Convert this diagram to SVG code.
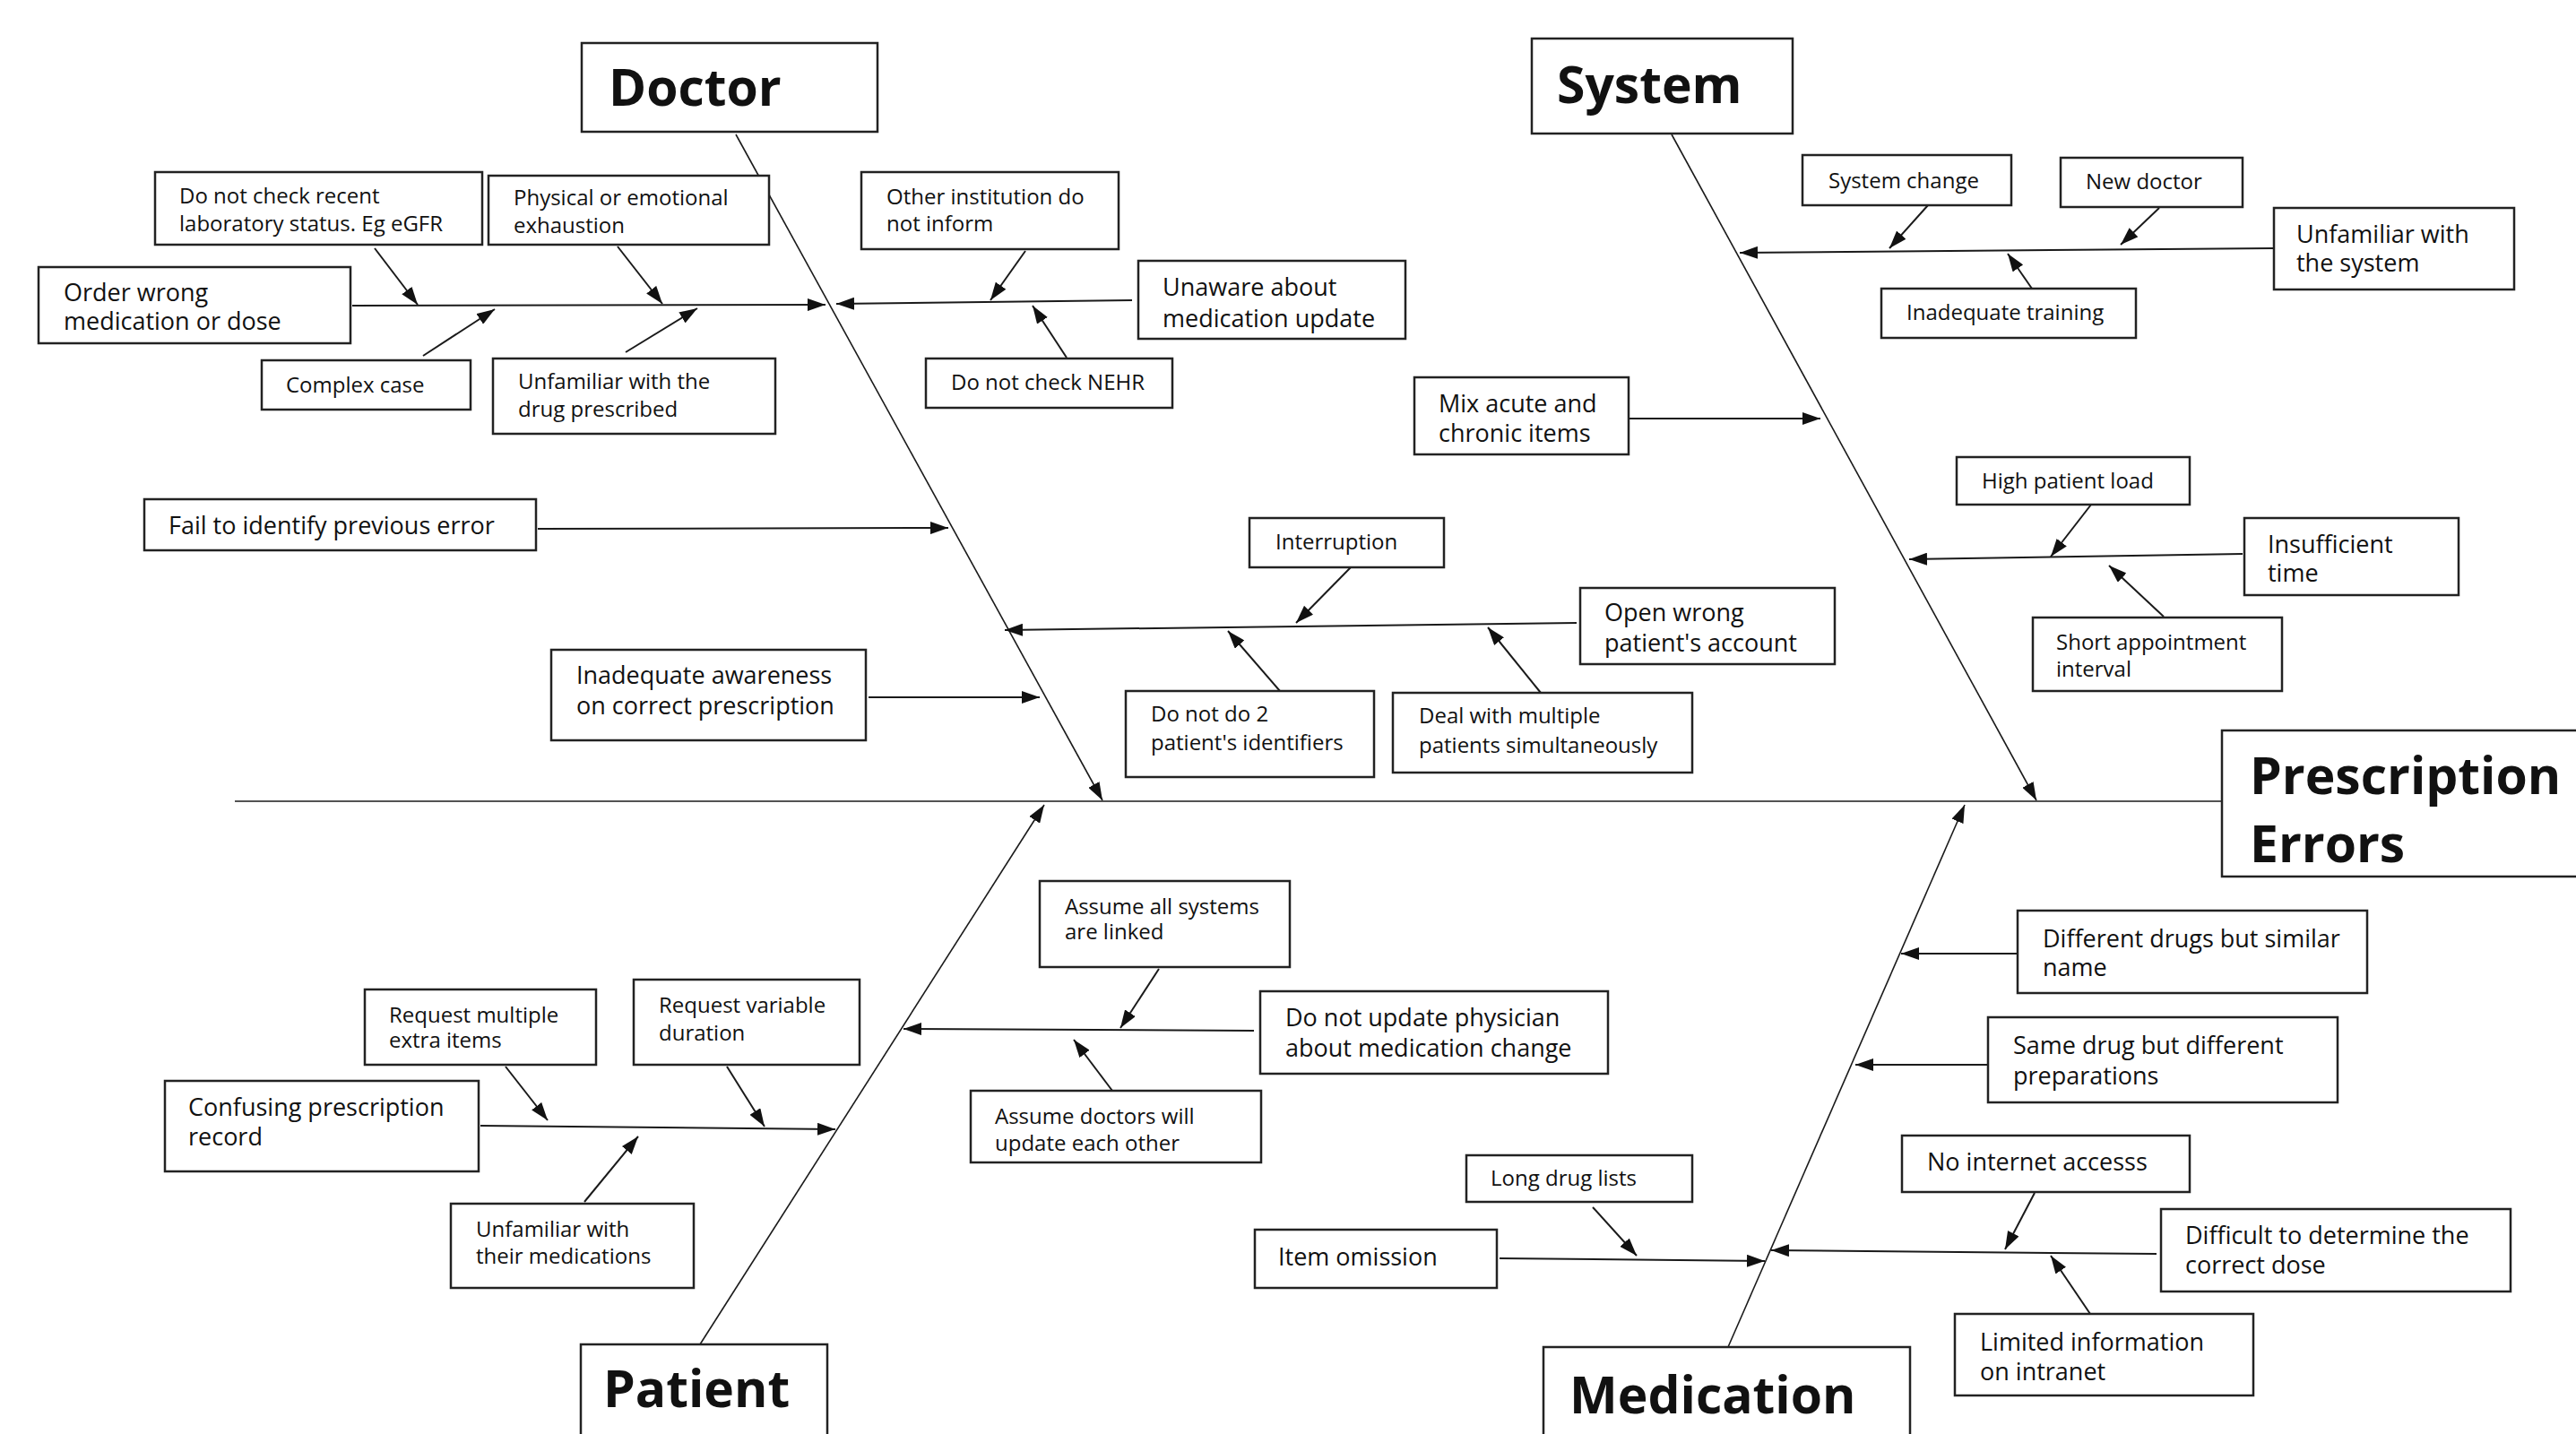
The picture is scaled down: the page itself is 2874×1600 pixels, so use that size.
<svg xmlns="http://www.w3.org/2000/svg" width="2874" height="1600" viewBox="0 0 2874 1600">
<style>
.bg{fill:#fff}
.box{fill:#fff;stroke:#222;stroke-width:2.5}
.t{font-family:"Open Sans","Liberation Sans",sans-serif;fill:#111}
.s24{font-size:24px}
.s27{font-size:27px}
.ti{font-size:57px;font-weight:bold}
.c{stroke:#1a1a1a;stroke-width:2;fill:none;marker-end:url(#ah)}
.sp{stroke:#1a1a1a;stroke-width:1.6;fill:none}
.spa{stroke:#1a1a1a;stroke-width:1.6;fill:none;marker-end:url(#ah)}
</style>
<defs>
<marker id="ah" markerUnits="userSpaceOnUse" markerWidth="20" markerHeight="14" refX="20" refY="7" orient="auto">
<path d="M0,0 L20,7 L0,14 z" fill="#111"/>
</marker>
</defs>
<rect class="bg" x="0" y="0" width="2874" height="1600"/>
<g id="connectors">
<line class="sp" x1="262" y1="894" x2="2479" y2="894"/>
<line class="spa" x1="821" y1="150" x2="1230" y2="893"/>
<line class="spa" x1="1865" y1="150" x2="2272" y2="893"/>
<line class="spa" x1="781" y1="1500" x2="1165" y2="898"/>
<line class="spa" x1="1928" y1="1503" x2="2192" y2="898"/>
<line class="c" x1="393" y1="341" x2="921" y2="340"/>
<line class="c" x1="1263" y1="335" x2="933" y2="339"/>
<line class="c" x1="418" y1="277" x2="466" y2="340"/>
<line class="c" x1="689" y1="275" x2="739" y2="339"/>
<line class="c" x1="472" y1="397" x2="552" y2="345"/>
<line class="c" x1="698" y1="393" x2="778" y2="344"/>
<line class="c" x1="1144" y1="280" x2="1105" y2="335"/>
<line class="c" x1="1190" y1="399" x2="1152" y2="341"/>
<line class="c" x1="600" y1="590" x2="1058" y2="589"/>
<line class="c" x1="969" y1="778" x2="1160" y2="778"/>
<line class="c" x1="1759" y1="695" x2="1121" y2="703"/>
<line class="c" x1="1507" y1="633" x2="1446" y2="695"/>
<line class="c" x1="1428" y1="771" x2="1370" y2="704"/>
<line class="c" x1="1719" y1="773" x2="1660" y2="700"/>
<line class="c" x1="2537" y1="277" x2="1941" y2="282"/>
<line class="c" x1="2151" y1="229" x2="2108" y2="277"/>
<line class="c" x1="2409" y1="232" x2="2366" y2="273"/>
<line class="c" x1="2267" y1="322" x2="2240" y2="283"/>
<line class="c" x1="1818" y1="467" x2="2031" y2="467"/>
<line class="c" x1="2502" y1="618" x2="2130" y2="624"/>
<line class="c" x1="2333" y1="563" x2="2288" y2="621"/>
<line class="c" x1="2414" y1="688" x2="2353" y2="631"/>
<line class="c" x1="536" y1="1256" x2="932" y2="1260"/>
<line class="c" x1="564" y1="1190" x2="611" y2="1250"/>
<line class="c" x1="811" y1="1190" x2="853" y2="1257"/>
<line class="c" x1="652" y1="1341" x2="712" y2="1268"/>
<line class="c" x1="1399" y1="1150" x2="1008" y2="1148"/>
<line class="c" x1="1293" y1="1081" x2="1250" y2="1147"/>
<line class="c" x1="1241" y1="1217" x2="1198" y2="1160"/>
<line class="c" x1="1673" y1="1404" x2="1969" y2="1407"/>
<line class="c" x1="1777" y1="1347" x2="1826" y2="1401"/>
<line class="c" x1="2251" y1="1064" x2="2121" y2="1064"/>
<line class="c" x1="2218" y1="1188" x2="2070" y2="1188"/>
<line class="c" x1="2406" y1="1399" x2="1976" y2="1395"/>
<line class="c" x1="2270" y1="1331" x2="2237" y2="1394"/>
<line class="c" x1="2332" y1="1466" x2="2288" y2="1401"/>
</g>
<g id="doctor"><rect class="box" x="649" y="48" width="330" height="99"/><text class="t ti" x="679" y="118">Doctor</text></g>
<g id="system"><rect class="box" x="1709" y="43" width="291" height="106"/><text class="t ti" x="1737" y="115">System</text></g>
<g id="patient"><rect class="box" x="648" y="1500" width="275" height="110"/><text class="t ti" x="673" y="1570">Patient</text></g>
<g id="medication"><rect class="box" x="1722" y="1503" width="409" height="110"/><text class="t ti" x="1751" y="1577">Medication</text></g>
<g id="prescription-errors"><rect class="box" x="2479" y="815" width="420" height="163"/><text class="t ti" x="2510" y="886">Prescription</text><text class="t ti" x="2510" y="962">Errors</text></g>
<g id="lab-status"><rect class="box" x="173" y="192" width="365" height="81"/><text class="t s24" x="200" y="227">Do not check recent</text><text class="t s24" x="200" y="258">laboratory status. Eg eGFR</text></g>
<g id="exhaustion"><rect class="box" x="545" y="196" width="313" height="77"/><text class="t s24" x="573" y="229">Physical or emotional</text><text class="t s24" x="573" y="260">exhaustion</text></g>
<g id="order-wrong"><rect class="box" x="43" y="298" width="348" height="85"/><text class="t s27" x="71" y="336">Order wrong</text><text class="t s27" x="71" y="368">medication or dose</text></g>
<g id="complex-case"><rect class="box" x="292" y="402" width="233" height="55"/><text class="t s24" x="319" y="438">Complex case</text></g>
<g id="unfamiliar-drug"><rect class="box" x="550" y="400" width="315" height="84"/><text class="t s24" x="578" y="434">Unfamiliar with the</text><text class="t s24" x="578" y="465">drug prescribed</text></g>
<g id="other-institution"><rect class="box" x="961" y="192" width="287" height="86"/><text class="t s24" x="989" y="228">Other institution do</text><text class="t s24" x="989" y="258">not inform</text></g>
<g id="unaware"><rect class="box" x="1270" y="291" width="298" height="87"/><text class="t s27" x="1297" y="330">Unaware about</text><text class="t s27" x="1297" y="365">medication update</text></g>
<g id="nehr"><rect class="box" x="1033" y="400" width="275" height="55"/><text class="t s24" x="1061" y="435">Do not check NEHR</text></g>
<g id="mix-acute"><rect class="box" x="1578" y="421" width="239" height="86"/><text class="t s27" x="1605" y="460">Mix acute and</text><text class="t s27" x="1605" y="493">chronic items</text></g>
<g id="fail-identify"><rect class="box" x="161" y="557" width="437" height="57"/><text class="t s27" x="188" y="596">Fail to identify previous error</text></g>
<g id="inadequate-awareness"><rect class="box" x="615" y="725" width="351" height="101"/><text class="t s27" x="643" y="763">Inadequate awareness</text><text class="t s27" x="643" y="797">on correct prescription</text></g>
<g id="interruption"><rect class="box" x="1394" y="578" width="217" height="55"/><text class="t s24" x="1423" y="613">Interruption</text></g>
<g id="open-wrong"><rect class="box" x="1763" y="656" width="284" height="85"/><text class="t s27" x="1790" y="693">Open wrong</text><text class="t s27" x="1790" y="727">patient's account</text></g>
<g id="identifiers"><rect class="box" x="1256" y="771" width="277" height="96"/><text class="t s24" x="1284" y="805">Do not do 2</text><text class="t s24" x="1284" y="837">patient's identifiers</text></g>
<g id="multiple-patients"><rect class="box" x="1554" y="773" width="334" height="89"/><text class="t s24" x="1583" y="807">Deal with multiple</text><text class="t s24" x="1583" y="840">patients simultaneously</text></g>
<g id="system-change"><rect class="box" x="2011" y="173" width="233" height="56"/><text class="t s24" x="2040" y="210">System change</text></g>
<g id="new-doctor"><rect class="box" x="2299" y="176" width="203" height="55"/><text class="t s24" x="2327" y="211">New doctor</text></g>
<g id="unfamiliar-system"><rect class="box" x="2537" y="232" width="268" height="91"/><text class="t s27" x="2562" y="271">Unfamiliar with</text><text class="t s27" x="2562" y="303">the system</text></g>
<g id="inadequate-training"><rect class="box" x="2099" y="322" width="284" height="55"/><text class="t s24" x="2127" y="357">Inadequate training</text></g>
<g id="high-load"><rect class="box" x="2183" y="510" width="260" height="53"/><text class="t s24" x="2211" y="545">High patient load</text></g>
<g id="insufficient-time"><rect class="box" x="2504" y="578" width="239" height="86"/><text class="t s27" x="2530" y="617">Insufficient</text><text class="t s27" x="2530" y="649">time</text></g>
<g id="short-appointment"><rect class="box" x="2268" y="689" width="278" height="82"/><text class="t s24" x="2294" y="725">Short appointment</text><text class="t s24" x="2294" y="755">interval</text></g>
<g id="request-multiple"><rect class="box" x="407" y="1104" width="258" height="84"/><text class="t s24" x="434" y="1141">Request multiple</text><text class="t s24" x="434" y="1169">extra items</text></g>
<g id="request-variable"><rect class="box" x="707" y="1093" width="252" height="95"/><text class="t s24" x="735" y="1130">Request variable</text><text class="t s24" x="735" y="1161">duration</text></g>
<g id="confusing-record"><rect class="box" x="184" y="1206" width="350" height="101"/><text class="t s27" x="210" y="1245">Confusing prescription</text><text class="t s27" x="210" y="1278">record</text></g>
<g id="unfamiliar-meds"><rect class="box" x="503" y="1343" width="271" height="94"/><text class="t s24" x="531" y="1380">Unfamiliar with</text><text class="t s24" x="531" y="1410">their medications</text></g>
<g id="assume-linked"><rect class="box" x="1160" y="983" width="279" height="96"/><text class="t s24" x="1188" y="1020">Assume all systems</text><text class="t s24" x="1188" y="1048">are linked</text></g>
<g id="not-update-physician"><rect class="box" x="1406" y="1106" width="388" height="92"/><text class="t s27" x="1434" y="1145">Do not update physician</text><text class="t s27" x="1434" y="1179">about medication change</text></g>
<g id="assume-doctors"><rect class="box" x="1083" y="1217" width="324" height="80"/><text class="t s24" x="1110" y="1254">Assume doctors will</text><text class="t s24" x="1110" y="1284">update each other</text></g>
<g id="long-drug-lists"><rect class="box" x="1636" y="1289" width="252" height="52"/><text class="t s24" x="1663" y="1323">Long drug lists</text></g>
<g id="item-omission"><rect class="box" x="1400" y="1372" width="270" height="65"/><text class="t s27" x="1426" y="1412">Item omission</text></g>
<g id="similar-name"><rect class="box" x="2251" y="1016" width="390" height="92"/><text class="t s27" x="2279" y="1057">Different drugs but similar</text><text class="t s27" x="2279" y="1089">name</text></g>
<g id="different-preparations"><rect class="box" x="2218" y="1135" width="390" height="95"/><text class="t s27" x="2246" y="1176">Same drug but different</text><text class="t s27" x="2246" y="1210">preparations</text></g>
<g id="no-internet"><rect class="box" x="2122" y="1267" width="321" height="63"/><text class="t s27" x="2150" y="1306">No internet accesss</text></g>
<g id="correct-dose"><rect class="box" x="2411" y="1349" width="390" height="92"/><text class="t s27" x="2438" y="1388">Difficult to determine the</text><text class="t s27" x="2438" y="1421">correct dose</text></g>
<g id="limited-info"><rect class="box" x="2181" y="1466" width="333" height="91"/><text class="t s27" x="2209" y="1507">Limited information</text><text class="t s27" x="2209" y="1540">on intranet</text></g>
</svg>
